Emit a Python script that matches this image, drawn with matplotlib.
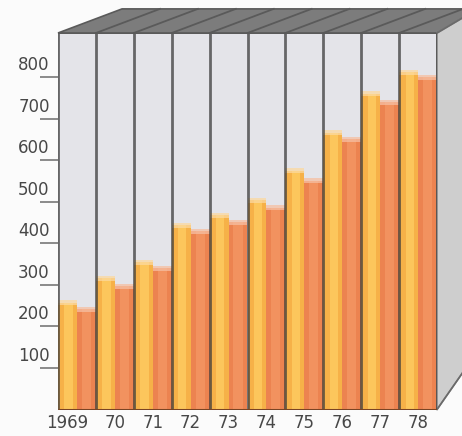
import numpy as np
import matplotlib.pyplot as plt
from matplotlib.patches import Polygon
from matplotlib.transforms import ScaledTranslation

# 数据：每年两根柱子（黄 / 橙）
years = ['1969', '70', '71', '72', '73', '74', '75', '76', '77', '78']
yellow_vals = [257, 316, 354, 443, 467, 503, 574, 666, 760, 811]
orange_vals = [241, 296, 340, 429, 451, 486, 550, 650, 739, 800]
y_ticks = [100, 200, 300, 400, 500, 600, 700, 800]

y_top = 906  # 前面板顶端
n = len(years)
x = np.arange(n)

fig = plt.figure(figsize=(4.62, 4.36), dpi=100, facecolor='#fbfbfb')
ax = fig.add_axes([58 / 462, 26.5 / 436, 379 / 462, 376.5 / 436])
ax.set_xlim(0, n)
ax.set_ylim(0, y_top)
ax.set_facecolor('#e4e4e9')

# 立体盒子的顶面（带斜条纹）
dx, back = 1.69, 964
top_face = Polygon([(0, y_top), (n, y_top), (n + 1, 960), (n + 1, back), (dx, back)],
                   closed=True, facecolor='#7c7c7c', edgecolor='#5a5a5a', lw=1.2,
                   clip_on=False, zorder=1)
ax.add_patch(top_face)
for i in range(1, n + 1):
    ax.plot([i, i + dx], [y_top, back], color='#5a5a5a', lw=1.3, clip_on=False, zorder=2)

# 右侧面
side = Polygon([(n, 0), (n, y_top), (n + 1, 960), (n + 1, 131)], closed=True,
               facecolor='#cecece', edgecolor='#8a8a8a', lw=1.2, clip_on=False, zorder=3)
ax.add_patch(side)
ax.plot([n, n + 1], [y_top, 960], color='#6a6a6a', lw=1.2, clip_on=False, zorder=4)
ax.plot([n, n + 1], [0, 131], color='#6a6a6a', lw=1.2, clip_on=False, zorder=4)

# 柱子
ax.bar(x + 0.25, yellow_vals, width=0.5, color='#f6b148', zorder=2)
ax.bar(x + 0.28, yellow_vals, width=0.22, color='#fcc65c', zorder=2)
ax.bar(x + 0.75, orange_vals, width=0.5, color='#ec8350', zorder=2)
ax.bar(x + 0.75, orange_vals, width=0.24, color='#f2925f', zorder=2)

# 柱顶的浅色高光（柔和一点）
cap = 12
ax.bar(x + 0.25, cap, bottom=np.array(yellow_vals) - cap / 2, width=0.5,
       color='#fbd9a0', alpha=0.75, lw=0, zorder=2)
ax.bar(x + 0.75, cap, bottom=np.array(orange_vals) - cap / 2, width=0.5,
       color='#f6bfa2', alpha=0.75, lw=0, zorder=2)

# 分隔线
ax.vlines(np.arange(n + 1), 0, y_top, colors='#3c3c3c', lw=2, alpha=0.75, zorder=5)
ax.hlines(y_top, 0, n, colors='#5a5a5a', lw=1.4, zorder=5)
ax.hlines(0, 0, n, colors='#7a4424', lw=2.2, zorder=5)

for s in ax.spines.values():
    s.set_visible(False)

# 坐标轴刻度
ax.set_yticks(y_ticks)
ax.set_yticklabels([str(v) for v in y_ticks])
ax.tick_params(axis='y', length=13, width=1.4, color='#8a8a8a', pad=-7,
               labelsize=12, labelcolor='#474747')
for lab in ax.get_yticklabels():
    lab.set_transform(lab.get_transform() + ScaledTranslation(0, 0.14, fig.dpi_scale_trans))

ax.set_xticks(x + 0.5)
ax.set_xticklabels(years)
ax.tick_params(axis='x', length=0, pad=3, labelsize=12, labelcolor='#474747')
first = ax.get_xticklabels()[0]
first.set_transform(first.get_transform() + ScaledTranslation(-0.10, 0, fig.dpi_scale_trans))

fig.savefig('out.png', dpi=100, facecolor=fig.get_facecolor())
